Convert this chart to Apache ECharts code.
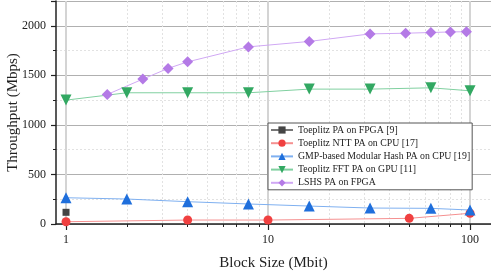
<!DOCTYPE html>
<html><head><meta charset="utf-8">
<script src="https://cdn.jsdelivr.net/npm/echarts@6/dist/echarts.min.js"></script>
<style>html,body{margin:0;padding:0;background:#fff}#c{width:491px;height:273px}</style>
</head><body><div id="c"></div>
<script>
const seriesNames = ['Toeplitz PA on FPGA [9]','Toeplitz NTT PA on CPU [17]','GMP-based Modular Hash PA on CPU [19]','Teoplitz FFT PA on GPU [11]','LSHS PA on FPGA'];
const fpgaX = [1];
const fpgaY = [118];
const nttX = [1, 4, 10, 50, 100];
const nttY = [23, 40, 40, 57, 108];
const gmpX = [1, 2, 4, 8, 16, 32, 64, 100];
const gmpY = [265, 252, 225, 202, 181, 161, 158, 141];
const fftX = [1, 2, 4, 8, 16, 32, 64, 100];
const fftY = [1250, 1324, 1324, 1324, 1361, 1361, 1374, 1344];
const lshsX = [1.6, 2.4, 3.2, 4, 8, 16, 32, 48, 64, 80, 96];
const lshsY = [1307, 1462, 1570, 1636, 1787, 1842, 1918, 1925, 1932, 1938, 1940];
const xMajorTicks = [1, 10, 100];
const xMinorTicks = [2,3,4,5,6,7,8,9,20,30,40,50,60,70,80,90];
const yTicks = [0, 500, 1000, 1500, 2000];

const font = 'Liberation Serif';
const zip = (xs, ys) => xs.map((x, i) => [x, ys[i]]);
const chart = echarts.init(document.getElementById('c'));
const mk = (name, xs, ys, color, lineColor, symbol, size, rot) => ({
  name, type: 'line', data: zip(xs, ys), symbol, symbolSize: size, symbolRotate: rot || 0,
  itemStyle: { color }, lineStyle: { color: lineColor, width: 1 },
  emphasis: { disabled: true }, animation: false, xAxisIndex: 0
});
chart.setOption({
  animation: false,
  grid: { left: 56, right: 0, top: 1, bottom: 49, containLabel: false, outerBoundsMode: 'none' },
  legend: {
    orient: 'vertical', left: 268, top: 123,
    backgroundColor: '#fff', borderColor: '#555', borderWidth: 1,
    padding: [1, 2, 1, 2], itemGap: 1.2, itemWidth: 22, itemHeight: 9,
    textStyle: { fontFamily: font, fontSize: 9.8, color: '#222', lineHeight: 12 },
    data: seriesNames
  },
  xAxis: [{
    type: 'log', logBase: 10, min: 0.892, max: 127,
    name: 'Block Size (Mbit)', nameLocation: 'middle', nameGap: 32,
    nameTextStyle: { fontFamily: font, fontSize: 15, color: '#222' },
    axisLine: { show: true, lineStyle: { color: '#222', width: 1.5 } },
    axisTick: { show: true, customValues: xMajorTicks, length: 6, lineStyle: { color: '#222', width: 1.2 } },
    axisLabel: { customValues: xMajorTicks, fontFamily: font, fontSize: 12, color: '#222', margin: 10 },
    splitLine: { show: true, customValues: xMajorTicks, lineStyle: { color: '#d4d4d4', width: 2 } }
  }, {
    type: 'log', logBase: 10, min: 0.892, max: 127, position: 'bottom',
    axisLine: { show: false },
    axisTick: { show: true, customValues: xMinorTicks, length: 3, lineStyle: { color: '#222', width: 1 } },
    axisLabel: { show: false },
    splitLine: { show: true, customValues: xMinorTicks, lineStyle: { color: '#e2e2e2', width: 1, type: [2, 2] } }
  }],
  yAxis: {
    type: 'value', min: 0, max: 2250, interval: 500,
    name: 'Throughput (Mbps)', nameLocation: 'middle', nameGap: 35, nameMoveOverlap: false,
    nameTextStyle: { fontFamily: font, fontSize: 15, color: '#222' },
    axisLine: { show: true, lineStyle: { color: '#222', width: 1.5 } },
    axisTick: { show: true, length: 5, lineStyle: { color: '#222', width: 1.2 } },
    minorTick: { show: true, splitNumber: 2, length: 3, lineStyle: { color: '#222', width: 1 } },
    axisLabel: { customValues: yTicks, formatter: v => String(v), fontFamily: font, fontSize: 12, color: '#222', margin: 10 },
    splitLine: { show: true, lineStyle: { color: '#b0b0b0', width: 1 } },
    minorSplitLine: { show: true, lineStyle: { color: '#e2e2e2', width: 1, type: [2, 2] } }
  },
  series: [
    mk(seriesNames[0], fpgaX, fpgaY, '#454545', '#777', 'rect', 7),
    mk(seriesNames[1], nttX, nttY, '#f04040', '#f59090', 'circle', 9),
    mk(seriesNames[2], gmpX, gmpY, '#1f6fdc', '#7fb0f0', 'triangle', 11),
    mk(seriesNames[3], fftX, fftY, '#32a862', '#80d0a0', 'triangle', 11, 180),
    mk(seriesNames[4], lshsX, lshsY, '#b47ae6', '#d0a8f4', 'diamond', 11)
  ]
});
</script></body></html>
